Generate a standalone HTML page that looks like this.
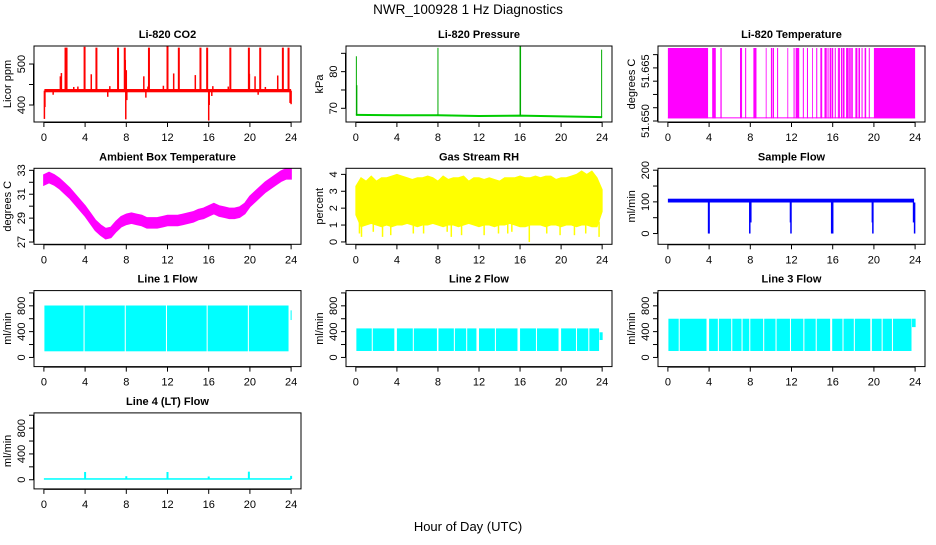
<!DOCTYPE html>
<html><head><meta charset="utf-8"><style>
body{margin:0;background:#fff}
svg text{font-family:"Liberation Sans",Arial,sans-serif;fill:#000}
.t{font-weight:bold;font-size:11px}
.k{font-size:11px}
</style></head><body>
<svg id="c" width="936" height="540" viewBox="0 0 936 540" xmlns="http://www.w3.org/2000/svg">
<text x="468" y="14" text-anchor="middle" style="font-size:13.5px">NWR_100928  1 Hz Diagnostics</text>
<text x="468" y="531" text-anchor="middle" style="font-size:13px">Hour of Day (UTC)</text>
</svg>
<script>
const xTicks=[0,4,8,12,16,20,24];
// CO2
const co2Base=435;
const co2SpikeT=[2.1,2.2,3.95,5.1,7.2,7.85,10.2,12.0,13.1,15.2,15.85,18.1,19.9,21.0,23.2,23.75];
const co2SpikeV=[540,540,542,540,540,540,540,545,540,540,540,540,540,540,540,540];
const co2MidT=[1.6,1.7,4.6,7.9,8.0,9.7,12.6,14.7,19.95,20.5,22.7,3.3,6.4,10.1,11.6,16.4,17.9,2.9,21.5];
const co2MidV=[470,478,475,510,485,470,477,473,476,470,472,445,446,445,447,446,445,444,444];
const co2LowT=[0.05,0.1,7.95,8.05,16.0,16.05,24.0,0.9,6.2,9.9,16.3,20.8,23.9];
const co2LowV=[366,395,365,412,362,400,402,425,420,418,422,425,405];
// Pressure
const presBaseT=[0,4,8,12,16,20,24];
const presBaseV=[68.2,68.1,68.1,67.9,68.0,67.8,67.6];
const presSpikeT=[0.05,0.1,8.0,16.0,16.05,23.95];
const presSpikeV=[84.2,76.3,86.5,87.0,87.0,86.0];
// Li-820 temp
const ltHi=51.6720, ltLo=51.6508;
const ltFill=[[0,3.9],[20,24]];
const ltBars=[4.3,4.5,5.1,7.0,7.1,7.5,8.3,8.5,9.5,10.0,10.2,10.6,11.6,12.2,12.4,12.6,13.1,13.5,14.0,14.4,14.8,15.2,15.5,15.7,15.9,16.2,16.5,16.6,16.8,17.0,17.3,17.6,17.8,18.2,18.5,18.8,19.1,19.5];
const ltBarW=[0.25,0.15,0.12,0.12,0.1,0.1,0.25,0.1,0.08,0.15,0.1,0.1,0.08,0.1,0.35,0.1,0.1,0.1,0.08,0.1,0.18,0.22,0.1,0.15,0.15,0.1,0.1,0.1,0.15,0.15,0.25,0.15,0.15,0.2,0.15,0.1,0.15,0.1];
// Ambient
const ambT=[0,0.5,1,1.5,2,2.5,3,3.5,4,4.5,5,5.5,6,6.5,7,7.5,8,8.5,9,9.5,10,10.5,11,11.5,12,12.5,13,13.5,14,14.5,15,15.5,16,16.5,17,17.5,18,18.5,19,19.5,20,20.5,21,21.5,22,22.5,23,23.5,24];
const ambV=[32.2,32.4,32.2,31.9,31.5,31.1,30.6,30.1,29.6,29.0,28.4,28.0,27.7,27.8,28.3,28.7,28.9,29.0,28.9,28.8,28.6,28.6,28.6,28.7,28.8,28.8,28.8,28.9,29.0,29.1,29.3,29.4,29.6,29.8,29.6,29.5,29.4,29.4,29.5,29.8,30.4,30.8,31.2,31.6,31.9,32.2,32.5,32.7,32.7];
const ambHalf=0.42;
// RH
const rhT=ambT;
const rhHi=[3.3,3.8,3.6,3.9,3.6,3.8,3.8,3.9,4.0,3.9,3.8,3.7,3.8,3.8,3.9,3.8,3.6,3.9,3.7,3.8,3.8,3.9,3.6,3.8,3.8,3.7,3.8,3.7,3.6,3.8,3.8,3.8,3.9,3.8,3.8,3.9,3.8,3.9,3.9,3.7,3.8,3.8,3.9,4.0,4.2,4.0,4.2,3.8,3.1];
const rhLo=[1.6,0.9,1.0,1.1,1.0,0.9,1.0,0.9,1.0,1.0,1.1,1.0,0.9,1.0,1.0,1.1,1.0,0.9,1.0,1.0,0.9,1.0,1.1,1.0,0.9,1.0,1.0,0.9,1.0,1.0,1.1,1.0,0.9,0.9,1.0,1.0,1.0,0.9,1.0,1.0,0.9,1.0,1.0,0.9,1.0,1.0,0.9,0.9,1.8];
const rhSpikeT=[0.35,0.55,2.6,3.4,5.6,8.9,10.3,12.5,13.9,14.8,16.9,18.6,19.9,22.4,23.7,1.7,6.6,9.3,15.2,21.3];
const rhSpikeV=[0.5,0.3,0.3,0.4,0.5,0.6,0.4,0.4,0.5,0.5,0.0,0.5,0.4,0.5,0.3,0.6,0.5,0.3,0.6,0.4];
// Sample flow
const sfLo=98, sfHi=110;
const sfDropT=[3.95,4.0,7.95,8.05,11.9,11.95,15.9,16.0,19.85,19.9,23.85,23.95];
const sfDropV=[0,0,0,35,35,0,0,0,35,0,35,0];
// Line flows
const l1Seg=[[0.05,3.85],[3.95,7.85],[7.95,11.85],[11.95,15.8],[15.9,19.8],[19.9,23.75]];
const l1Top=805, l1Bot=95;
const l1End=[23.95,24.05,580,730];
const l2Seg=[[0.05,1.55],[1.65,3.75],[4.0,5.55],[5.65,7.9],[8.05,9.55],[9.65,10.75],[10.85,11.75],[12.0,13.55],[13.65,15.75],[16.0,17.55],[17.65,19.75],[20.0,21.45],[21.55,22.65],[22.75,23.7]];
const l2Top=450, l2Bot=100;
const l2End=[23.75,24.05,270,390];
const l3Seg=[[0.05,1.05],[1.15,3.75],[4.0,4.85],[4.95,6.15],[6.25,7.15],[7.25,7.9],[8.0,9.25],[9.35,10.45],[10.55,11.85],[11.95,13.15],[13.25,14.35],[14.45,15.75],[15.95,16.95],[17.05,18.05],[18.15,19.65],[19.8,20.75],[20.85,21.75],[21.85,23.65]];
const l3Top=600, l3Bot=100;
const l3End=[23.7,24.05,470,600];
// Line 4
const l4Base=12;
const l4SpikeT=[4.0,8.0,12.0,16.0,19.9,24.0];
const l4SpikeV=[120,55,120,50,125,60];

const cols=[[34,301],[346,612],[658,925]];
const rows=[46,168.3,290.6,412.9];
const H=76;
const svg=document.getElementById('c');
const NS='http://www.w3.org/2000/svg';
function mk(tag,at,parent){const e=document.createElementNS(NS,tag);for(const k in at)e.setAttribute(k,at[k]);(parent||svg).appendChild(e);return e;}

function panel(c,r,title,ylab,ymin,ymax,yticks,ylabels,name){
  const L=cols[c][0],R=cols[c][1],T=rows[r],B=T+H;
  const w=R-L;
  const sx=v=>L+(v+0.96)/25.92*w;
  const sy=v=>B-(v-ymin)/(ymax-ymin)*H;
  const g=mk('g',{});
  
  
  const plot=mk('g',{},g);
  
  
  const box=mk('rect',{x:L,y:T,width:w,height:H,fill:'none',stroke:'#000','stroke-width':1},g);
  
  
  const tt=mk('text',{x:(L+R)/2,y:T-8,'text-anchor':'middle',class:'t'},g);tt.textContent=title;
  
  
  const xa=mk('g',{},g);
  
  
  mk('line',{x1:sx(0),x2:sx(24),y1:B+0.5,y2:B+0.5,stroke:'#000'},xa);
  xTicks.forEach(v=>{mk('line',{x1:sx(v),x2:sx(v),y1:B,y2:B+5,stroke:'#000'},xa);
    const t=mk('text',{x:sx(v),y:B+19,'text-anchor':'middle',class:'k'},xa);t.textContent=v;});
  const ya=mk('g',{},g);
  
  
  mk('line',{x1:L-0.5,x2:L-0.5,y1:sy(yticks[0]),y2:sy(yticks[yticks.length-1]),stroke:'#000'},ya);
  yticks.forEach(v=>mk('line',{x1:L-5,x2:L,y1:sy(v),y2:sy(v),stroke:'#000'},ya));
  ylabels.forEach(v=>{const y=sy(v);const t=mk('text',{x:L-9,y:y,'text-anchor':'middle',class:'k',transform:`rotate(-90 ${L-9} ${y})`},ya);t.textContent=String(v);});
  const yt=mk('text',{x:L-23,y:(T+B)/2,'text-anchor':'middle',class:'k',transform:`rotate(-90 ${L-23} ${(T+B)/2})`},g);yt.textContent=ylab;
  
  
  return {sx,sy,g:plot};
}
function vl(p,x,v1,v2,col,wd){mk('line',{x1:p.sx(x),x2:p.sx(x),y1:p.sy(v1),y2:p.sy(v2),stroke:col,'stroke-width':wd||1},p.g);}
function rectV(p,x1,x2,v1,v2,col){mk('rect',{x:p.sx(x1),y:p.sy(v2),width:Math.max(0.8,p.sx(x2)-p.sx(x1)),height:p.sy(v1)-p.sy(v2),fill:col},p.g);}

let p=panel(0,0,'Li-820 CO2','Licor ppm',358.5,544,[400,450,500],[400,500],'co2');
rectV(p,0.05,24,co2Base-4,co2Base+4,'#f00');
co2SpikeT.forEach((t,i)=>vl(p,t,co2Base,co2SpikeV[i],'#f00',2));
co2MidT.forEach((t,i)=>vl(p,t,co2Base,co2MidV[i],'#f00',1.5));
co2LowT.forEach((t,i)=>vl(p,t,co2Base,co2LowV[i],'#f00',1.5));
p=panel(1,0,'Li-820 Pressure','kPa',66.26,87.0,[70,75,80,85],[70,80],'pressure');
mk('polyline',{points:presBaseT.map((t,i)=>p.sx(t)+','+p.sy(presBaseV[i])).join(' '),fill:'none',stroke:'#0c0','stroke-width':2},p.g);
presSpikeT.forEach((t,i)=>vl(p,t,presBaseV[Math.min(6,Math.round(t/4))],presSpikeV[i],'#0a0',1));
p=panel(2,0,'Li-820 Temperature','degrees C',51.6497,51.6726,[51.650,51.654,51.658,51.662,51.666,51.670],[],'licor-temp');
ltFill.forEach(f=>rectV(p,f[0],f[1],ltLo,ltHi,'#f0f'));
rectV(p,0,24,ltLo,ltLo+0.0003,'#f0f');
ltBars.forEach((t,i)=>rectV(p,t,t+ltBarW[i],ltLo,ltHi,'#f0f'));
[[51.650,'51.650'],[51.665,'51.665']].forEach(a=>{const y=p.sy(a[0]);const t=mk('text',{x:cols[2][0]-9,y:y,'text-anchor':'middle',class:'k',transform:`rotate(-90 ${cols[2][0]-9} ${y})`});t.textContent=a[1];
  
  });
p=panel(0,1,'Ambient Box Temperature','degrees C',26.81,33.17,[27,28,29,30,31,32,33],[27,29,31,33],'ambient-temp');
mk('polygon',{points:ambT.map((t,i)=>p.sx(t)+','+p.sy(ambV[i]+ambHalf)).concat(ambT.slice().reverse().map((t,j)=>{const i=ambT.length-1-j;return p.sx(t)+','+p.sy(ambV[i]-ambHalf);})).join(' '),fill:'#f0f',stroke:'#f0f','stroke-width':1.5},p.g);
p=panel(1,1,'Gas Stream RH','percent',-0.14,4.36,[0,1,2,3,4],[0,1,2,3,4],'gas-rh');
mk('polygon',{points:rhT.map((t,i)=>p.sx(t)+','+p.sy(rhHi[i])).concat(rhT.slice().reverse().map((t,j)=>{const i=rhT.length-1-j;return p.sx(t)+','+p.sy(rhLo[i]);})).join(' '),fill:'#ff0',stroke:'#ff0'},p.g);
rhSpikeT.forEach((t,i)=>vl(p,t,1.2,rhSpikeV[i],'#ff0',1.5));
p=panel(2,1,'Sample Flow','ml/min',-34,206,[0,50,100,150,200],[0,100,200],'sample-flow');
rectV(p,0,23.9,sfLo,sfHi,'#00f');
sfDropT.forEach((t,i)=>vl(p,t,sfLo,sfDropV[i],'#00f',1.5));
function lineFlow(c,r,title,seg,top,bot,end,name){
  const q=panel(c,r,title,'ml/min',-142,1036,[0,200,400,600,800,1000],[0,400,800],name);
  seg.forEach(s=>rectV(q,s[0],s[1],bot,top,'#0ff'));
  rectV(q,end[0],end[1],end[2],end[3],'#0ff');
  return q;
}
lineFlow(0,2,'Line 1 Flow',l1Seg,l1Top,l1Bot,l1End,'line1-flow');
lineFlow(1,2,'Line 2 Flow',l2Seg,l2Top,l2Bot,l2End,'line2-flow');
lineFlow(2,2,'Line 3 Flow',l3Seg,l3Top,l3Bot,l3End,'line3-flow');
p=panel(0,3,'Line 4 (LT) Flow','ml/min',-142,1036,[0,200,400,600,800,1000],[0,400,800],'line4-flow');
rectV(p,0,24,l4Base-12,l4Base+12,'#0ff');
l4SpikeT.forEach((t,i)=>vl(p,t,l4Base,l4SpikeV[i],'#0ff',2));
</script>
</body></html>
